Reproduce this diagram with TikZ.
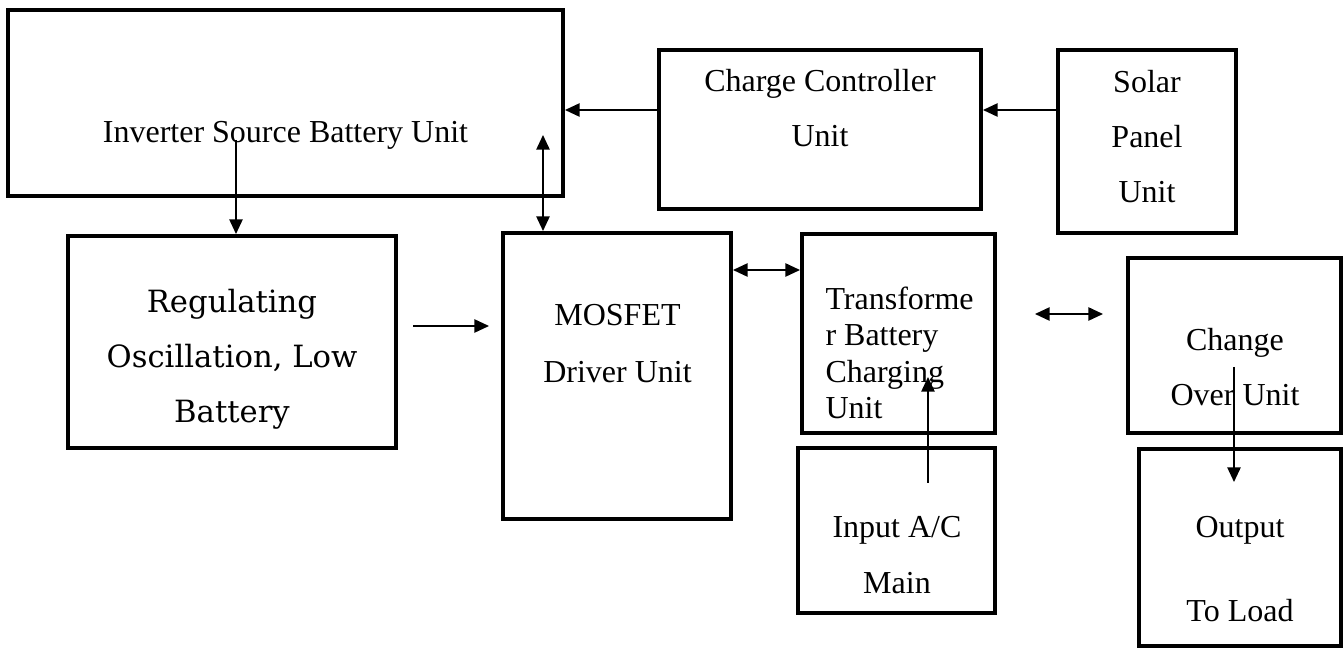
\documentclass[tikz,border=0pt]{standalone}
\usepackage{fontspec}
\setmainfont{Liberation Serif}
\newfontfamily\bookfont{DejaVu Serif}
\usetikzlibrary{arrows.meta}
\newcommand{\pxu}{0.375pt}

\begin{document}
\begin{tikzpicture}[x=\pxu, y=-\pxu, >={Triangle[length=5.5pt, width=5pt]},
		blk/.style={draw, line width=1.5pt, inner sep=0pt},
		sz/.style 2 args={minimum width=#1*\pxu, minimum height=#2*\pxu},
		txt/.style={inner sep=0pt, align=center, anchor=north, font=\fontsize{12}{20.6}\selectfont},
		arr/.style={->, line width=0.6pt},
		darr/.style={<->, line width=0.6pt}]
			% page frame
			\useasboundingbox (0,0) rectangle (1344,648);
			
			% the nine unit boxes
			\foreach \n/\cx/\cy/\w/\h in {inv/285.5/103/555/186, ctrl/820/129.5/322/159,
				solar/1147/141.5/178/183, reg/232/342/328/212, mos/617/376/228/286,
				trans/898.5/333.5/193/199, chg/1234.5/345.5/213/175,
				inp/896.5/530.5/197/165, out/1240/547.5/202/197} {
				\node[blk, sz={\w}{\h}] (\n) at (\cx,\cy) {};
			}
			
			% box texts
			\node[txt] (invtxt) at (285.5,121) {Inverter Source Battery Unit};
			\node[txt] (ctrltxt) at (820,69) {Charge Controller\\Unit};
			\node[txt] (solartxt) at (1147,70) {Solar\\Panel\\Unit};
			\node[txt, font=\bookfont\fontsize{11.5}{20.6}\selectfont] (regtxt) at (232,289) {Regulating\\Oscillation, Low\\Battery};
			\node[txt, font=\fontsize{12}{21.2}\selectfont] (mostxt) at (617.5,304) {MOSFET\\Driver Unit};
			\node[txt, anchor=north west, align=left, font=\fontsize{12}{13.7}\selectfont] (transtxt) at (825,286) {Transforme\\r Battery\\Charging\\Unit};
			\node[txt] (chgtxt) at (1235,328) {Change\\Over Unit};
			\node[txt, font=\fontsize{12}{21}\selectfont] (inptxt) at (897,516) {Input A/C\\Main};
			\node[txt, font=\fontsize{12}{31.5}\selectfont] (outtxt) at (1240,516) {Output\\To Load};
			
			% top row arrows
			\coordinate (lvl) at (0,110);
			\draw[arr] (ctrl.west |- lvl) -- (inv.east |- lvl);
			\draw[arr] (solar.west |- lvl) -- (ctrl.east |- lvl);
			
			% battery unit down to the second row
			\coordinate (invout) at (236,140);
			\draw[arr] (invout) -- (invout |- reg.north);
			\coordinate (invbus) at (543,135);
			\draw[darr] (invbus) -- (invbus |- mos.north);
			
			% second row arrows
			\coordinate (regA) at (413,326);
			\coordinate (regB) at (489,326);
			\draw[arr] (regA) -- (regB);
			\coordinate (mosy) at (0,270);
			\draw[darr] (mos.east |- mosy) -- (trans.west |- mosy);
			\coordinate (chgA) at (1035,314);
			\coordinate (chgB) at (1103,314);
			\draw[darr] (chgA) -- (chgB);
			
			% mains in, load out
			\coordinate (inpsrc) at (928,483);
			\coordinate (transin) at (928,377);
			\draw[arr] (inpsrc) -- (transin);
			\coordinate (chgsrc) at (1234,367);
			\coordinate (outin) at (1234,482);
			\draw[arr] (chgsrc) -- (outin);
		\end{tikzpicture}
\end{document}
